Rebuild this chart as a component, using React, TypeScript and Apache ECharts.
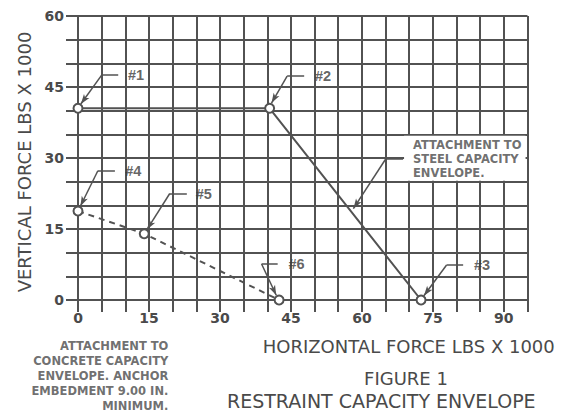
import React, { useEffect, useRef } from 'react';
import * as echarts from 'echarts';

// Axis scales (kips = lbs x 1000)
const xMax = 95;
const yMax = 60;
const gridStep = 5;
const labelStep = 15;

// Envelopes
const steelEnvelope: number[][] = [[0, 40.5], [40.5, 40.5], [72.5, 0]];
const concreteEnvelope: number[][] = [[0, 18.8], [14, 14], [42.5, 0]];
const pointTags = ['#1', '#2', '#3', '#4', '#5', '#6'];

// Callouts (in data units): tag position, shelf end, elbow, arrow tip
const tagAt = [[12.25, 47.5], [51.8, 47.3], [85.4, 7.4], [11.7, 27.3], [26.6, 22.5], [46.2, 7.6]];
const tagShelf = [[8.5, 47.5], [47.8, 47.3], [81.4, 7.4], [7.8, 27.3], [23.0, 22.5], [42.2, 7.6]];
const tagElbow = [[5.0, 47.5], [44.2, 47.3], [77.9, 7.4], [4.2, 27.3], [19.4, 22.5], [38.8, 7.6]];
const tagTip = [[0.6, 41.4], [40.9, 41.6], [73.1, 0.9], [0.5, 19.8], [14.6, 14.9], [41.9, 1.0]];

const steelNote = 'ATTACHMENT TO\nSTEEL CAPACITY\nENVELOPE.';
const steelNoteAt = [68.9, 29.7];
const steelNoteMaskAt = [81.75, 29.95];
const steelLeader = [[68.7, 29.9], [65.1, 29.9], [58.2, 19.3]];

const concreteNote = 'ATTACHMENT TO\nCONCRETE CAPACITY\nENVELOPE. ANCHOR\nEMBEDMENT 9.00 IN.\nMINIMUM.';
const concreteNoteAt = [19.1, -16.06];
const concreteLeader = [[21.5, -15.8], [25.1, -15.8], [28.2, 5.5]];

const xName = 'HORIZONTAL FORCE LBS X 1000';
const yName = 'VERTICAL FORCE LBS X 1000';
const figTitle = 'FIGURE 1';
const figSubtitle = 'RESTRAINT CAPACITY ENVELOPE';

const INK = '#525252';
const TEXT = '#4a4a4a';
const RED = '#ff0000';
const SANS = "'DejaVu Sans', sans-serif";

function leader(points: number[][]) {
  return [
    [{ coord: points[0], symbol: 'none' }, { coord: points[1], symbol: 'none' }],
    [{ coord: points[1], symbol: 'none' }, { coord: points[2], symbol: 'arrow' }],
  ];
}

export default function App() {
  const ref = useRef<HTMLDivElement>(null);
  useEffect(() => {
    if (!ref.current) return;
    const chart = echarts.init(ref.current, undefined, { renderer: 'svg' });

    const leaders: any[] = [];
    pointTags.forEach((_, i) => {
      leaders.push(...leader([tagShelf[i], tagElbow[i], tagTip[i]]));
    });
    leaders.push(...leader(steelLeader));
    leaders.push(...leader(concreteLeader));

    const axisCommon = {
      type: 'value',
      axisLine: { show: false },
      axisTick: { show: true, length: 12, lineStyle: { color: INK, width: 2 } },
      splitLine: { show: true, lineStyle: { color: INK, width: 2 } },
    };

    chart.setOption({
      animation: false,
      backgroundColor: '#ffffff',
      title: [
        {
          text: figTitle, left: 406, top: 370.5, textAlign: 'center', padding: 0,
          textStyle: { fontFamily: SANS, fontSize: 18, lineHeight: 16, fontWeight: 'normal', color: TEXT },
        },
        {
          text: figSubtitle, left: 227, top: 392, textAlign: 'left', padding: 0,
          textStyle: { fontFamily: SANS, fontSize: 19, lineHeight: 17, fontWeight: 'normal', color: TEXT },
        },
      ],
      grid: { left: 78, top: 16, width: 449.5, height: 284, containLabel: false },
      xAxis: {
        ...axisCommon,
        min: 0, max: xMax, interval: gridStep,
        name: xName, nameLocation: 'middle', nameGap: 37,
        nameTextStyle: { fontFamily: SANS, fontSize: 18, color: TEXT, padding: [0, 0, 0, 212] },
        axisLabel: {
          margin: 11, fontFamily: SANS, fontWeight: 'bold', fontSize: 14, color: TEXT,
          formatter: (v: number) => (v % labelStep === 0 ? String(v) : ''),
        },
      },
      yAxis: {
        ...axisCommon,
        min: 0, max: yMax, interval: gridStep,
        name: yName, nameLocation: 'middle', nameGap: 44,
        nameTextStyle: { fontFamily: SANS, fontSize: 18, color: TEXT, padding: [0, 8, 0, 0] },
        axisLabel: {
          margin: 14, fontFamily: SANS, fontWeight: 'bold', fontSize: 14, color: TEXT,
          formatter: (v: number) => (v % labelStep === 0 ? String(v) : ''),
        },
      },
      series: [
        {
          name: 'axes', type: 'line', data: [], z: 1, clip: false, silent: true,
          markLine: {
            silent: true, symbol: 'none', label: { show: false },
            lineStyle: { color: RED, width: 2, type: 'solid' },
            data: [
              [{ coord: [-2.5, 0] }, { coord: [xMax, 0] }],
              [{ coord: [0, -2.5] }, { coord: [0, yMax] }],
            ],
          },
        },
        {
          name: 'note mask', type: 'scatter', z: 2, silent: true,
          symbol: 'rect', symbolSize: [121.5, 45],
          itemStyle: { color: '#ffffff', opacity: 1 },
          data: [steelNoteMaskAt],
        },
        {
          name: 'Steel capacity envelope', type: 'line', data: steelEnvelope, z: 3,
          symbol: 'emptyCircle', symbolSize: 9,
          lineStyle: { color: INK, width: 2 },
          itemStyle: { color: INK, borderWidth: 2 },
        },
        {
          name: 'Concrete capacity envelope', type: 'line', data: concreteEnvelope, z: 3, clip: false,
          symbol: 'emptyCircle', symbolSize: 9,
          lineStyle: { color: INK, width: 2, type: [6, 5] },
          itemStyle: { color: INK, borderWidth: 2 },
          markLine: {
            silent: true, symbol: ['none', 'arrow'], symbolSize: [5, 10], label: { show: false },
            lineStyle: { color: INK, width: 1.5, type: 'solid' },
            data: leaders,
          },
        },
        {
          name: 'tags', type: 'scatter', symbolSize: 0, z: 4, clip: false, silent: true,
          data: pointTags.map((t, i) => ({ value: tagAt[i], name: t })),
          label: {
            show: true, formatter: '{b}', position: [0, 0], align: 'center', verticalAlign: 'middle',
            fontFamily: "'Liberation Sans', sans-serif", fontWeight: 'bold', fontSize: 14.5, color: '#3c3c3c',
          },
        },
        {
          name: 'notes', type: 'scatter', symbolSize: 0, z: 4, clip: false, silent: true,
          data: [
            {
              value: steelNoteAt, name: steelNote,
              label: { align: 'left', padding: [0, 0, 0, 9], lineHeight: 14 },
            },
            {
              value: concreteNoteAt, name: concreteNote,
              label: { align: 'right', lineHeight: 14.8 },
            },
          ],
          label: {
            show: true, formatter: '{b}', position: [0, 0], verticalAlign: 'middle',
            fontFamily: SANS, fontWeight: 'bold', fontSize: 11.5, color: TEXT,
          },
        },
      ],
    });
    return () => chart.dispose();
  }, []);
  return <div ref={ref} style={{ position: 'absolute', left: 0, top: 0, width: 564, height: 412 }} />;
}
